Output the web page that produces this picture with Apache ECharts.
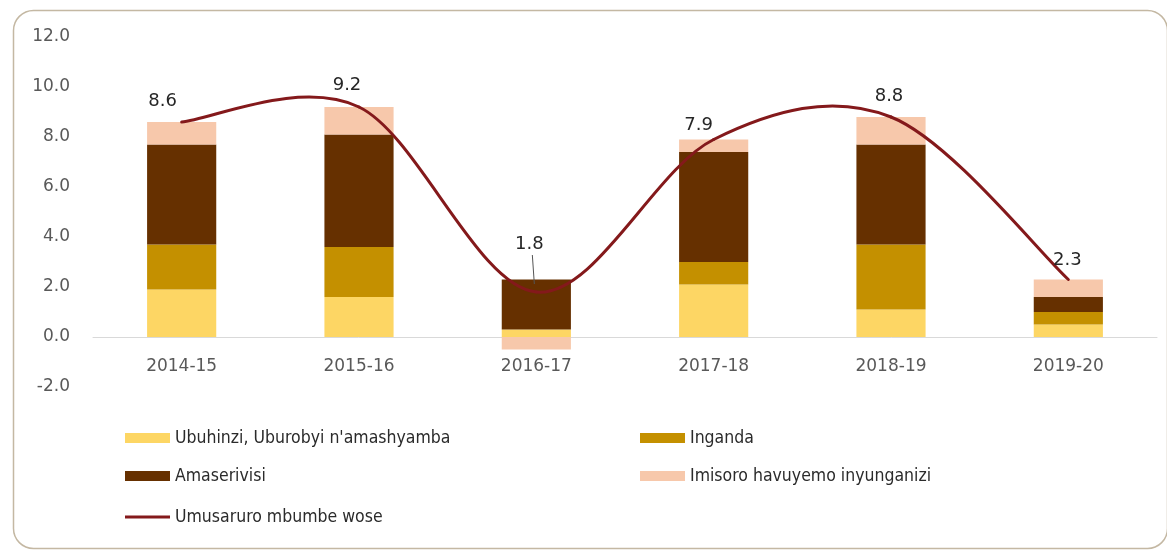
<!DOCTYPE html>
<html>
<head>
<meta charset="utf-8">
<script src="https://cdn.jsdelivr.net/npm/echarts@6/dist/echarts.min.js"></script>
<style>
  html, body { margin: 0; padding: 0; background: #ffffff; }
  #chart { width: 1167px; height: 550px; }
</style>
</head>
<body>
<div id="chart"></div>
<script>
// Growth contributions by sector (percentage points) and overall GDP growth
const years = ['2014-15', '2015-16', '2016-17', '2017-18', '2018-19', '2019-20'];
const agriculture = [1.9, 1.6, 0.3, 2.1, 1.1, 0.5];
const industry    = [1.8, 2.0, 0.0, 0.9, 2.6, 0.5];
const services    = [4.0, 4.5, 2.0, 4.4, 4.0, 0.6];
const taxes       = [0.9, 1.1, -0.5, 0.5, 1.1, 0.7];
const gdpGrowth   = [8.6, 9.2, 1.8, 7.9, 8.8, 2.3];
const yTicks = { min: -2, max: 12, step: 2 };

const names = {
  agri: "Ubuhinzi, Uburobyi n'amashyamba",
  ind: 'Inganda',
  serv: 'Amaserivisi',
  tax: 'Imisoro havuyemo inyunganizi',
  gdp: 'Umusaruro mbumbe wose'
};

const LEGEND_FONT = "'Liberation Sans Narrow', 'DejaVu Sans Condensed', 'Open Sans', sans-serif";
const TICK_FONT = "'DejaVu Sans', 'Open Sans', sans-serif";
const LINE_COLOR = '#84191b';

// value-label placement relative to each point of the growth curve (px)
const labelNudge = [[-19, -21], [-12, -22], [-7, -48], [-15, -14], [-2, -21], [-1, -19]];

function barSeries(name, values, color) {
  return {
    name: name,
    type: 'bar',
    stack: 'total',
    barWidth: '39%',
    itemStyle: { color: color },
    data: values
  };
}

// Smoothed curve through the growth points: cubic Bezier segments whose
// control points follow the neighbouring points (tension 1/6).
function renderGrowthCurve(params, api) {
  const i = params.dataIndex;
  const n = gdpGrowth.length;
  const pt = k => {
    const j = Math.max(0, Math.min(n - 1, k));
    return api.coord([j, gdpGrowth[j]]);
  };
  const children = [];
  const p1 = pt(i);
  if (i < n - 1) {
    const p0 = pt(i - 1), p2 = pt(i + 1), p3 = pt(i + 2);
    const c1 = [p1[0] + (p2[0] - p0[0]) / 6, p1[1] + (p2[1] - p0[1]) / 6];
    const c2 = [p2[0] - (p3[0] - p1[0]) / 6, p2[1] - (p3[1] - p1[1]) / 6];
    children.push({
      type: 'bezierCurve',
      shape: { x1: p1[0], y1: p1[1], cpx1: c1[0], cpy1: c1[1], cpx2: c2[0], cpy2: c2[1], x2: p2[0], y2: p2[1] },
      style: { stroke: LINE_COLOR, lineWidth: 3, fill: null, lineCap: 'round' }
    });
  }
  const lx = p1[0] + labelNudge[i][0];
  const ly = p1[1] + labelNudge[i][1];
  if (labelNudge[i][1] < -35) {
    // leader from a lifted label down to the curve
    children.push({
      type: 'line',
      shape: { x1: lx + 3, y1: ly + 11, x2: lx + 5, y2: p1[1] - 8 },
      style: { stroke: '#555555', lineWidth: 1 }
    });
  }
  children.push({
    type: 'text',
    x: lx, y: ly,
    style: {
      text: api.value(1).toFixed(1),
      align: 'center', verticalAlign: 'middle',
      fontFamily: TICK_FONT, fontSize: 18, fill: '#262626'
    },
    z2: 10
  });
  return { type: 'group', children: children };
}

const chart = echarts.init(document.getElementById('chart'), null, { renderer: 'canvas' });

const legendText = { fontFamily: LEGEND_FONT, fontSize: 17.5, color: '#2b2b2b' };

chart.setOption({
  animation: false,
  backgroundColor: '#ffffff',
  graphic: [{
    type: 'rect',
    left: 11, top: 8,
    shape: { width: 1154, height: 538, r: 20 },
    style: { fill: 'none', stroke: '#c4b8a3', lineWidth: 1.5 },
    silent: true,
    z: -1
  }],
  grid: { left: 93, right: 10, top: 37, bottom: 163 },
  legend: [
    {
      orient: 'vertical', left: 120, top: 424,
      itemWidth: 45, itemHeight: 10, itemGap: 20, icon: 'rect',
      textStyle: legendText,
      data: [names.agri, names.serv]
    },
    {
      orient: 'vertical', left: 635, top: 424,
      itemWidth: 45, itemHeight: 10, itemGap: 20, icon: 'rect',
      textStyle: legendText,
      data: [names.ind, names.tax]
    },
    {
      orient: 'vertical', left: 120, top: 503,
      itemWidth: 45, itemHeight: 3, icon: 'rect',
      textStyle: legendText,
      data: [names.gdp]
    }
  ],
  xAxis: {
    type: 'category',
    data: years,
    axisTick: { show: false },
    axisLine: { onZero: true, lineStyle: { color: '#d9d9d9', width: 1 } },
    axisLabel: { margin: -29, fontFamily: TICK_FONT, fontSize: 17, color: '#595959' }
  },
  yAxis: {
    type: 'value',
    min: yTicks.min, max: yTicks.max, interval: yTicks.step,
    splitLine: { show: false },
    axisLine: { show: false },
    axisTick: { show: false },
    axisLabel: {
      margin: 23,
      fontFamily: TICK_FONT, fontSize: 17, color: '#595959',
      formatter: v => v.toFixed(1)
    }
  },
  series: [
    barSeries(names.agri, agriculture, '#fdd664'),
    barSeries(names.ind, industry, '#c49000'),
    barSeries(names.serv, services, '#663000'),
    barSeries(names.tax, taxes, '#f7c8ab'),
    {
      name: names.gdp,
      type: 'custom',
      itemStyle: { color: LINE_COLOR },
      z: 5,
      renderItem: renderGrowthCurve,
      encode: { x: 0, y: 1 },
      data: gdpGrowth.map((v, i) => [i, v])
    }
  ]
});
</script>
</body>
</html>
